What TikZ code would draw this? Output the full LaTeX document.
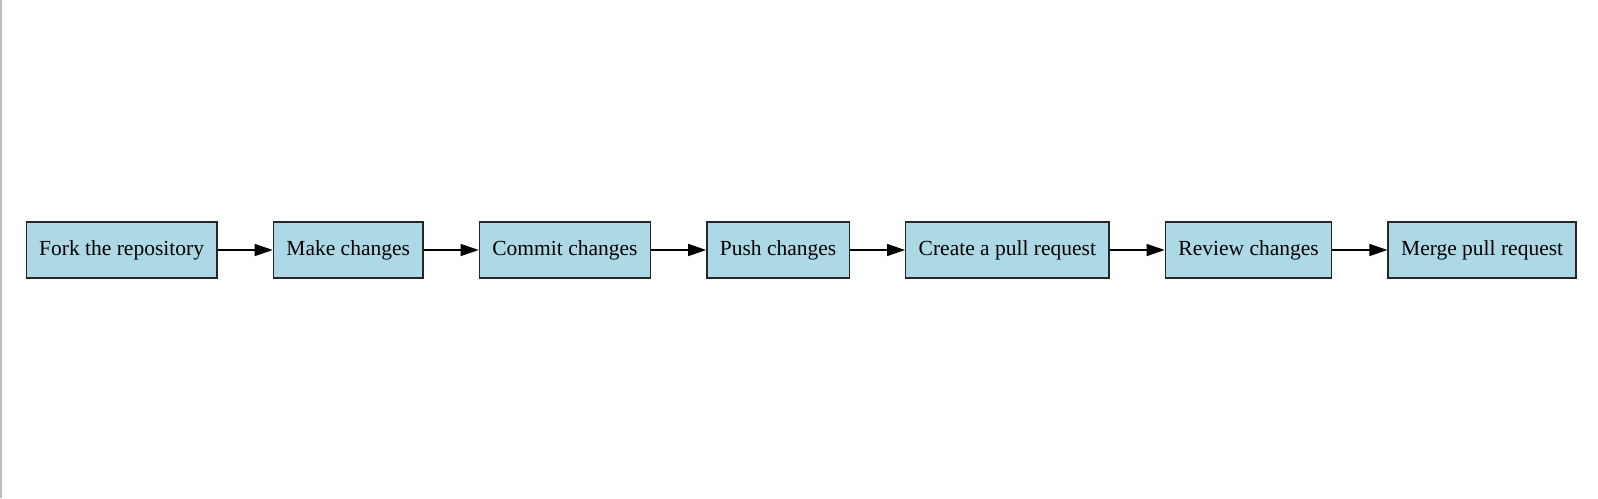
\documentclass[tikz,border=0pt]{standalone}
\usepackage{fontspec}
\setmainfont{Liberation Serif}
\usetikzlibrary{positioning,arrows.meta}
\definecolor{boxblue}{RGB}{173,216,230}
\definecolor{edgegray}{RGB}{190,190,190}
\begin{document}
\begin{tikzpicture}[x=1pt, y=1pt, node distance=55pt,
  stepbox/.style={draw=black!85, fill=boxblue, line width=1.4pt, inner xsep=13pt,
    minimum height=56pt, font=\fontsize{21.5}{26}\selectfont},
  flow/.style={-{Triangle[length=18pt, width=12pt]}, line width=1.4pt}]
  \useasboundingbox (0,0) rectangle (1598,-498);
  \draw[edgegray, line width=1.5pt] (0.75,0) -- (0.75,-498);

  % Steps
  \node[stepbox, anchor=west] (fork) at (25.5,-250) {Fork the repository};
  \node[stepbox, right=of fork] (make) {Make changes};
  \node[stepbox, right=of make] (commit) {Commit changes};
  \node[stepbox, right=of commit] (push) {Push changes};
  \node[stepbox, right=of push] (pr) {Create a pull request};
  \node[stepbox, right=of pr] (review) {Review changes};
  \node[stepbox, right=of review] (merge) {Merge pull request};

  % Arrows
  \draw[flow] (fork) -- (make);
  \draw[flow] (make) -- (commit);
  \draw[flow] (commit) -- (push);
  \draw[flow] (push) -- (pr);
  \draw[flow] (pr) -- (review);
  \draw[flow] (review) -- (merge);
\end{tikzpicture}
\end{document}
